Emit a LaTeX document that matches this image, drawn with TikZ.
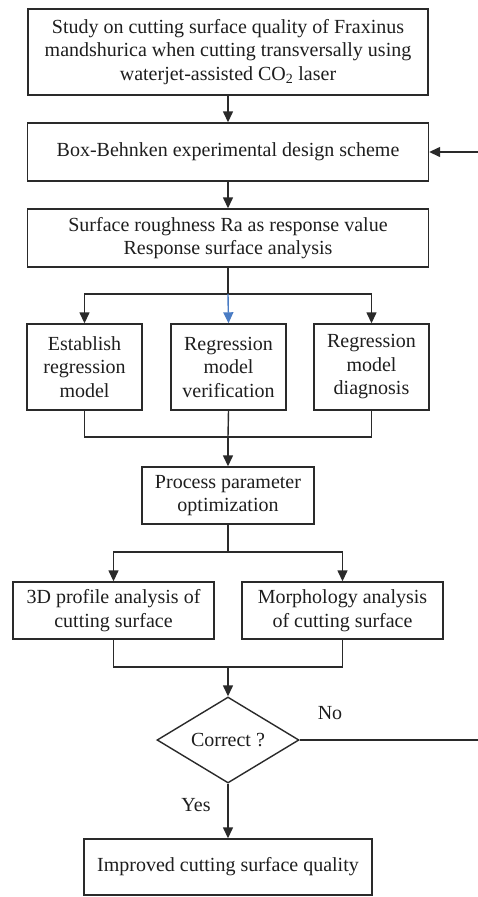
\documentclass[tikz,border=0pt]{standalone}
\usepackage{fontspec}
\setmainfont{Liberation Serif}
\usetikzlibrary{shapes.geometric,arrows.meta}
\definecolor{ln}{HTML}{2A2A2A}
\definecolor{tx}{HTML}{1E1E1E}
\definecolor{bl}{HTML}{4A7CC4}
\begin{document}
\begin{tikzpicture}[x=1pt,y=-1pt,
  box/.style={draw=ln,line width=1.4pt,rectangle,inner sep=0pt,align=center,text=tx,
    font=\fontsize{20}{23.5}\selectfont},
  arr/.style={draw=ln,line width=1.4pt,-{Triangle[length=11pt,width=10pt]}},
  lin/.style={draw=ln,line width=1.4pt},
  lab/.style={text=tx,font=\fontsize{20}{23.5}\selectfont,inner sep=0pt}]
\useasboundingbox (0,0) rectangle (478,897);
\fill[white] (0,0) rectangle (478,897);
\node[box,minimum width=400pt,minimum height=86pt] (b1) at (228,52)
  {Study on cutting surface quality of Fraxinus\\mandshurica when cutting transversally using\\waterjet-assisted CO\textsubscript{2} laser};
\node[box,minimum width=401pt,minimum height=58pt] (b2) at (228,152)
  {Box-Behnken experimental design scheme};
\node[box,minimum width=401pt,minimum height=58pt] (b3) at (228,238)
  {Surface roughness Ra as response value\\Response surface analysis};
\node[box,minimum width=115pt,minimum height=86pt] (ba) at (84.5,367)
  {Establish\\regression\\model};
\node[box,minimum width=115pt,minimum height=86pt] (bb) at (228.5,367)
  {Regression\\model\\verification};
\node[box,minimum width=115pt,minimum height=86pt] (bc) at (371.5,367)
  {Regression\\model\\diagnosis};
\node[box,minimum width=172pt,minimum height=57pt] (bp) at (228,495.5)
  {Process parameter\\optimization};
\node[box,minimum width=201pt,minimum height=57pt] (bd) at (113.5,610.5)
  {3D profile analysis of\\cutting surface};
\node[box,minimum width=201pt,minimum height=57pt] (be) at (342.5,610.5)
  {Morphology analysis\\of cutting surface};
\node[box,shape=diamond,aspect=1.65,minimum width=142pt,minimum height=86pt] (dc) at (228,740)
  {Correct ?};
\node[box,minimum width=288pt,minimum height=56pt] (bf) at (228,867)
  {Improved cutting surface quality};
\node[lab] (no) at (330,713) {No};
\node[lab] (yes) at (196,805) {Yes};
% coordinates
\coordinate (s1) at (228,294);
\coordinate (m1) at (228,437);
\coordinate (s2) at (228,552);
\coordinate (m2) at (228,667);
\coordinate (fr) at (480,740);
\coordinate (fb) at (480,152);
% connectors
\draw[arr] (b1) -- (b2);
\draw[arr] (b2) -- (b3);
\draw[lin] (b3.south) -- (s1);
\draw[arr] (s1) -| (ba.north);
\draw[arr] (s1) -| (bc.north);
\draw[draw=bl,line width=1.4pt,-{Triangle[length=11pt,width=10pt]},bl] (s1) -- (bb.north);
\draw[lin] (ba.south) |- (m1);
\draw[lin] (bc.south) |- (m1);
\draw[lin] (bb.south) -- (m1);
\draw[arr] (m1) -- (bp.north);
\draw[lin] (bp.south) -- (s2);
\draw[arr] (s2) -| (bd.north);
\draw[arr] (s2) -| (be.north);
\draw[lin] (bd.south) |- (m2);
\draw[lin] (be.south) |- (m2);
\draw[arr] (m2) -- (dc.north);
\draw[arr] (dc.south) -- (bf.north);
\draw[arr] (dc.east) -- (fr) -- (fb) -- (b2.east);
\end{tikzpicture}
\end{document}
